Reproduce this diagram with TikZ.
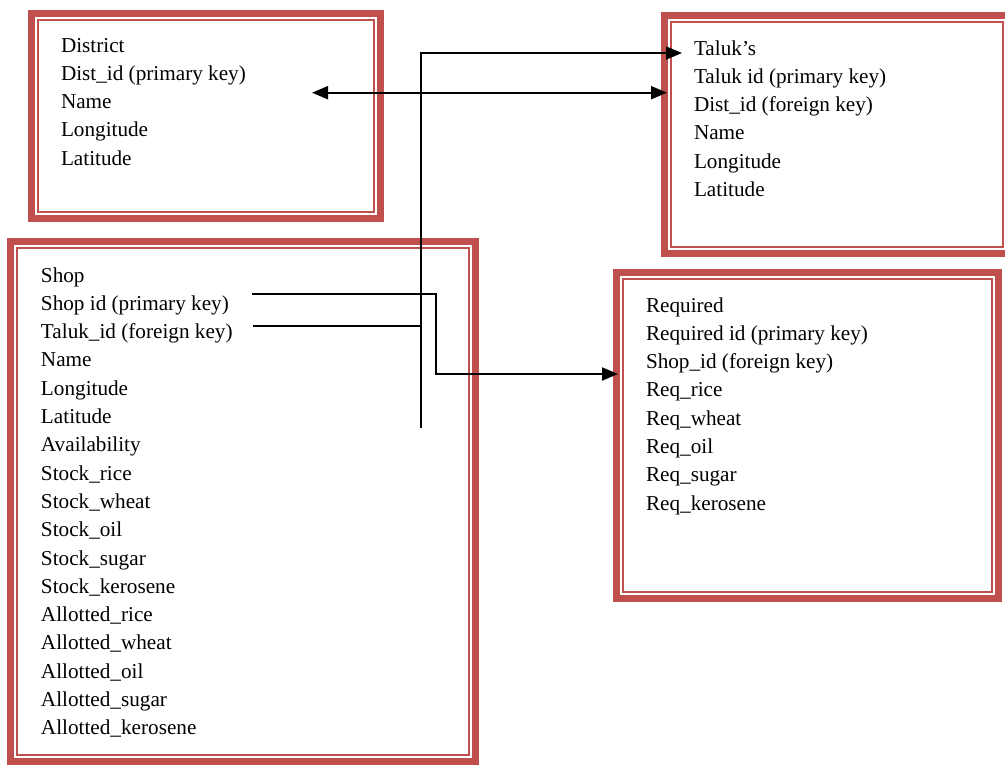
\documentclass[tikz,border=0pt]{standalone}
\usepackage{fontspec}
\setmainfont{Liberation Serif}
\usetikzlibrary{arrows.meta}
\definecolor{bandred}{HTML}{C0504D}
\tikzset{
  tbl/.style={draw=bandred, line width=7.5pt, outer sep=0pt, inner sep=0pt},
  thinframe/.style={draw=bandred, line width=2pt},
  rows/.style={anchor=base west, inner sep=0pt, outer sep=0pt},
  link/.style={draw=black, line width=2pt},
  tip/.style={-{Triangle[length=16pt,width=13pt]}},
}
\newcommand{\rowfont}{\fontsize{21.2pt}{28.3pt}\selectfont}
\newcommand{\tabrows}[1]{\parbox[t]{360pt}{\rowfont\raggedright #1}}
\begin{document}
\begin{tikzpicture}[x=1pt,y=-1pt]
\useasboundingbox (0,0) rectangle (1005,764);
\begin{scope}
\clip (0,0) rectangle (1005,764);
% boxes
\node[tbl, minimum width=349pt, minimum height=205pt] (district) at (206,116) {};
\node[tbl, minimum width=345.5pt, minimum height=238pt] (taluk) at (837.25,134.5) {};
\node[tbl, minimum width=382pt, minimum height=326pt] (required) at (807.5,435.5) {};
\node[tbl, minimum width=465pt, minimum height=520.5pt] (shop) at (243,501.75) {};
\foreach \b in {district,taluk,required,shop}{
  \draw[thinframe] ([shift={(6.8,6.8)}]\b.north west) rectangle ([shift={(-6.8,-6.8)}]\b.south east);
}
\end{scope}
% texts
\node[rows] (districttext) at (61,52) {\tabrows{District\\Dist\_id (primary key)\\Name\\Longitude\\Latitude}};
\node[rows] (taluktext) at (694,55) {\tabrows{Taluk’s\\Taluk id (primary key)\\Dist\_id (foreign key)\\Name\\Longitude\\Latitude}};
\node[rows] (shoptext) at (41,282) {\tabrows{Shop\\Shop id (primary key)\\Taluk\_id (foreign key)\\Name\\Longitude\\Latitude\\Availability\\Stock\_rice\\Stock\_wheat\\Stock\_oil\\Stock\_sugar\\Stock\_kerosene\\Allotted\_rice\\Allotted\_wheat\\Allotted\_oil\\Allotted\_sugar\\Allotted\_kerosene}};
\node[rows] (requiredtext) at (646,312) {\tabrows{Required\\Required id (primary key)\\Shop\_id (foreign key)\\Req\_rice\\Req\_wheat\\Req\_oil\\Req\_sugar\\Req\_kerosene}};
% connector anchor points
\coordinate (shopid) at (252,294);
\coordinate (shopbend) at (436,294);
\coordinate (reqin) at (618,374);
\coordinate (talukid) at (253,326);
\coordinate (vjoin) at (421,326);
\coordinate (vbot) at (421,428);
\coordinate (vtop) at (421,53);
\coordinate (talukin) at (682,53);
\coordinate (distend) at (312,92.7);
\coordinate (talukin2) at (667,92.7);
% connectors
\draw[link, tip] (shopid) -- (shopbend) |- (reqin);
\draw[link, line width=1.6pt] (talukid) -- (vjoin);
\draw[link, tip, line width=1.7pt] (vbot) -- (vtop) -- (talukin);
\draw[link, {Triangle[length=16pt,width=13pt]}-{Triangle[length=16pt,width=13pt]}] (distend) -- (talukin2);
\end{tikzpicture}
\end{document}
